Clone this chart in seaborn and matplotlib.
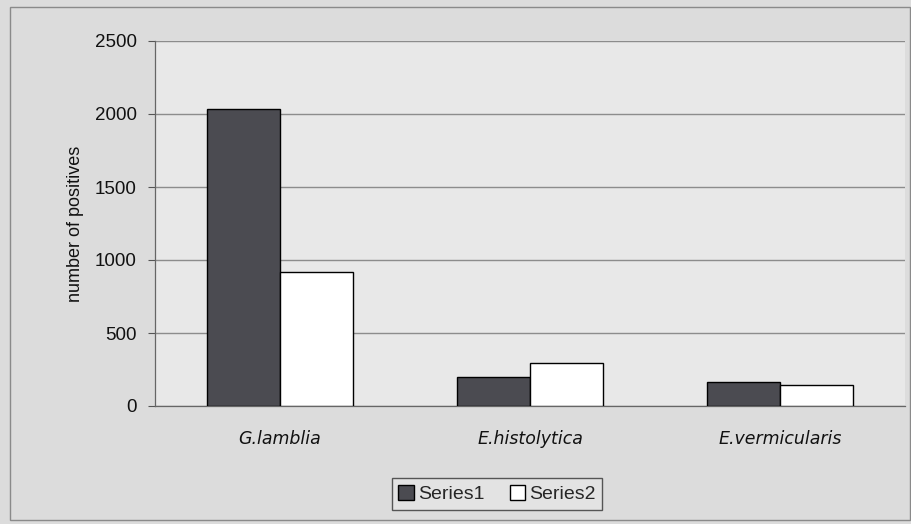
import matplotlib
matplotlib.use("Agg")
import matplotlib.pyplot as plt
import matplotlib.patches as mpatches
import seaborn as sns
import pandas as pd

categories = ["G.lamblia", "E.histolytica", "E.vermicularis"]
series1 = [2035, 200, 165]
series2 = [920, 295, 143]
series_names = ["Series1", "Series2"]
y_ticks = [0, 500, 1000, 1500, 2000, 2500]

df = pd.DataFrame({
    "category": categories * 2,
    "value": series1 + series2,
    "series": [series_names[0]] * 3 + [series_names[1]] * 3,
})

sns.set_theme(style="white")
plt.rcParams["font.family"] = ["Liberation Sans", "DejaVu Sans"]

fig = plt.figure(figsize=(9.12, 5.24), dpi=100)
fig.patch.set_facecolor("#dcdcdc")
fig.patches.append(mpatches.Rectangle((10 / 912, 4 / 524), 900 / 912, 513 / 524,
                                      transform=fig.transFigure, fill=False,
                                      edgecolor="#8a8a8a", linewidth=1.0))

ax = fig.add_axes([155 / 912, 118 / 524, 750 / 912, 365 / 524])
ax.set_facecolor("#e8e8e8")

sns.barplot(data=df, x="category", y="value", hue="series",
            palette=["#4a4a52", "#ffffff"], edgecolor="black", linewidth=1.0,
            width=0.584, gap=0, ax=ax, legend=True, zorder=3)

ax.set_xlim(-0.5, 2.5)
ax.set_ylim(0, 2500)
ax.set_yticks(y_ticks)
ax.set_yticklabels([str(t) for t in y_ticks], fontsize=13.5, color="#111111")
ax.yaxis.grid(True, color="#8c8c8c", linewidth=1.0, zorder=0)
ax.set_axisbelow(True)

# category boundaries get tick marks; names sit centred without ticks
ax.set_xticks([-0.5, 0.5, 1.5, 2.5])
ax.set_xticklabels([])
ax.set_xticks([0, 1, 2], minor=True)
ax.set_xticklabels(categories, minor=True, fontstyle="italic", fontsize=12.5,
                   family=["DejaVu Sans"], color="#111111")
ax.tick_params(axis="x", which="minor", length=0, pad=17)
ax.tick_params(axis="x", which="major", length=5, width=0.8, color="#555555", direction="out")
ax.tick_params(axis="y", length=5, width=0.8, color="#555555", direction="out", pad=8, left=True)

ax.set_xlabel("")
ax.set_ylabel("number of positives", fontsize=13, color="#111111", labelpad=8)

for side in ["top", "right"]:
    ax.spines[side].set_visible(False)
for side in ["left", "bottom"]:
    ax.spines[side].set_color("#666666")
    ax.spines[side].set_linewidth(0.9)

handles, labels = ax.get_legend_handles_labels()
ax.get_legend().remove()
fig.legend(handles, labels, loc="center", bbox_to_anchor=(497 / 912, 1 - 494 / 524),
           ncol=2, frameon=True, fancybox=False, edgecolor="#555555",
           facecolor="#e3e3e3", fontsize=14, handlelength=0.8, handleheight=0.8,
           handletextpad=0.2, columnspacing=1.3, borderpad=0.35, borderaxespad=0,
           framealpha=1)
leg = fig.legends[0]
leg._legend_box.sep = 5
for t in leg.get_texts():
    t.set_fontsize(14)

fig.savefig("out.png", dpi=100, facecolor=fig.get_facecolor())
